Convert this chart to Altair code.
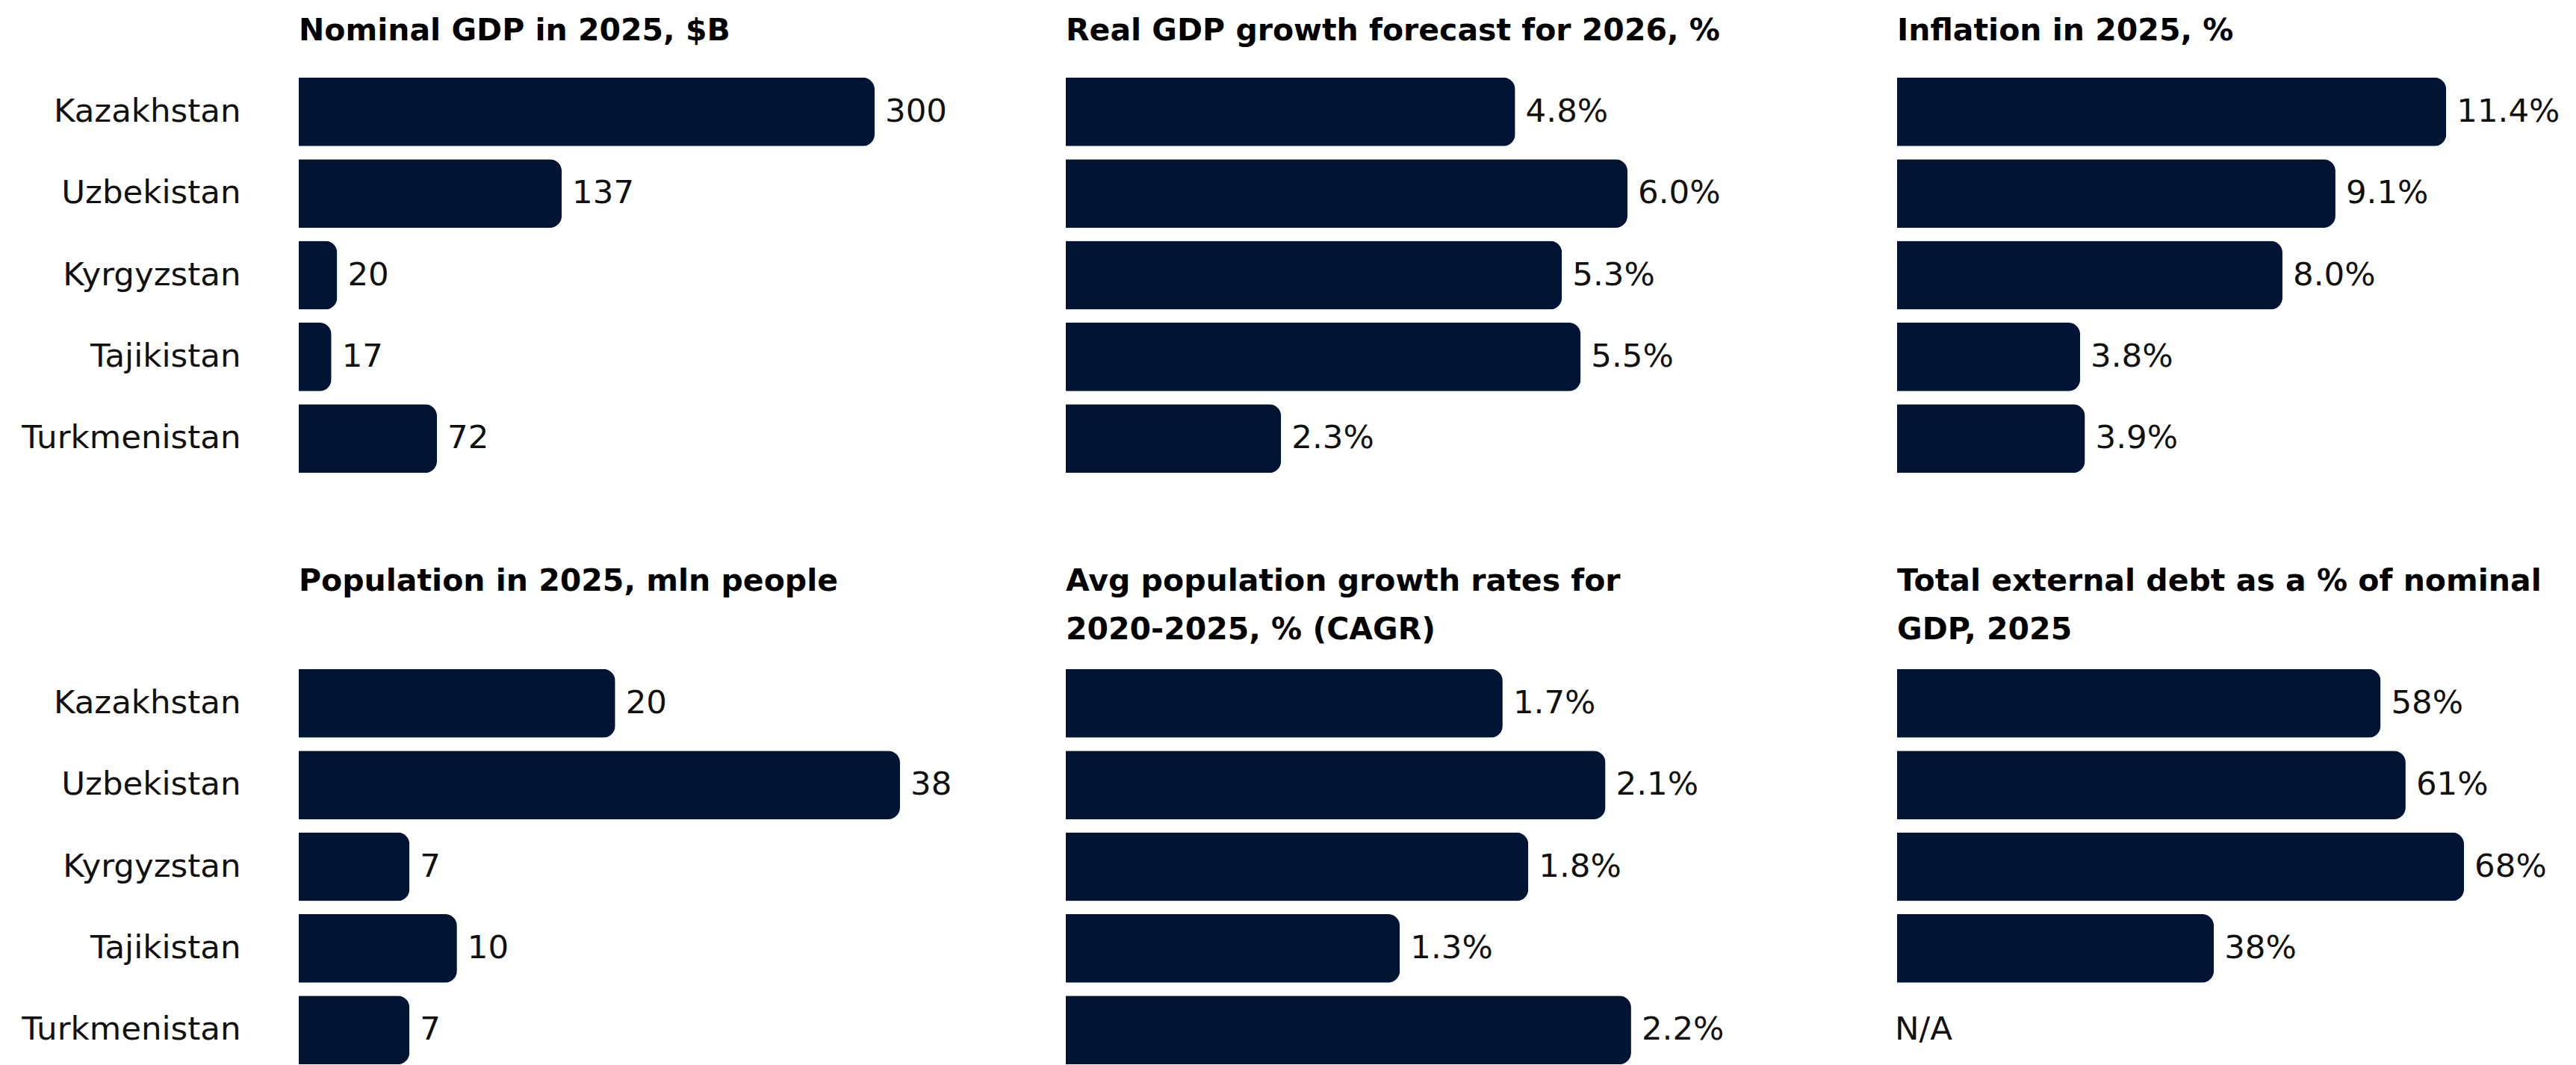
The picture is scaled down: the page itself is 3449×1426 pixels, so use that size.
import altair as alt
import pandas as pd

countries = ["Kazakhstan", "Uzbekistan", "Kyrgyzstan", "Tajikistan", "Turkmenistan"]
gdp_nominal = [300, 137, 20, 17, 72]
gdp_growth = [4.8, 6.0, 5.3, 5.5, 2.3]
inflation = [11.4, 9.1, 8.0, 3.8, 3.9]
population = [20, 38, 7, 10, 7]
pop_growth = [1.7, 2.1, 1.8, 1.3, 2.2]
ext_debt = [58, 61, 68, 38, None]

title_gdp = "Nominal GDP in 2025, $B"
title_growth = "Real GDP growth forecast for 2026, %"
title_infl = "Inflation in 2025, %"
title_pop = ["Population in 2025, mln people", " "]
title_popg = ["Avg population growth rates for", "2020-2025, % (CAGR)"]
title_debt = ["Total external debt as a % of nominal", "GDP, 2025"]

NAVY = "#021433"
LABEL_FONT = "DejaVu Sans"
TITLE_FONT = "DejaVu Sans"
FS = 43.5
TFS = 41


def fmt_int(v):
    return "N/A" if v is None else f"{v:.0f}"


def fmt_pct1(v):
    return "N/A" if v is None else f"{v:.1f}%"


def fmt_pct0(v):
    return "N/A" if v is None else f"{v:.0f}%"


def panel(values, fmt, title, offset, xmax, width, show_y):
    df = pd.DataFrame({
        "country": countries,
        "value": values,
        "label": [fmt(v) for v in values],
        "missing": [v is None for v in values],
    })
    df["lx"] = df["value"].fillna(0)
    yscale = alt.Scale(paddingInner=0.16, paddingOuter=0.08)
    if show_y:
        yax = alt.Axis(title=None, domain=False, ticks=False, labelPadding=78,
                       labelFont=LABEL_FONT, labelFontSize=FS, labelColor="#111111",
                       labelLimit=600)
    else:
        yax = None
    y = alt.Y("country:N", sort=countries, scale=yscale, axis=yax)
    xs = alt.Scale(domain=[0, xmax], nice=False, zero=True)
    base = alt.Chart(df)
    bars = base.mark_bar(color=NAVY, cornerRadiusEnd=16).encode(
        x=alt.X("value:Q", scale=xs, axis=None), y=y)
    txt = base.transform_filter("!datum.missing").mark_text(
        align="left", baseline="middle", dx=14, font=LABEL_FONT, fontSize=FS,
        color="#111111").encode(x=alt.X("lx:Q", scale=xs, axis=None), y=y, text="label:N")
    na = base.transform_filter("datum.missing").mark_text(
        align="left", baseline="middle", dx=-3, font=LABEL_FONT, fontSize=FS,
        color="#111111").encode(x=alt.X("lx:Q", scale=xs, axis=None), y=y, text="label:N")
    return alt.layer(bars, txt, na).properties(
        width=width, height=547,
        title=alt.TitleParams(text=title, anchor="start", frame="group", font=TITLE_FONT,
                              fontWeight="bold", fontSize=TFS, color="#000000",
                              offset=offset, baseline="alphabetic", lineHeight=65))


W1, W2, W3 = 1027, 1113, 872
p1 = panel(gdp_nominal, fmt_int, title_gdp, 0, 399.6, W1, True)
p2 = panel(gdp_growth, fmt_pct1, title_growth, 0, 8.88, W2, False)
p3 = panel(inflation, fmt_pct1, title_infl, 0, 13.52, W3, False)
p4 = panel(population, fmt_int, title_pop, -10, 48.48, W1, True)
p5 = panel(pop_growth, fmt_pct1, title_popg, -10, 3.235, W2, False)
p6 = panel(ext_debt, fmt_pct0, title_debt, -10, 78.12, W3, False)

chart = alt.concat(p1, p2, p3, p4, p5, p6, columns=3,
                   spacing={"row": 245, "column": 0}, bounds="flush").properties(
    padding={"left": 28, "top": 21, "right": 10, "bottom": 0},
    background="white",
).configure_view(stroke=None)

chart.save("out.html", embed_options={"renderer": "svg", "actions": False})
